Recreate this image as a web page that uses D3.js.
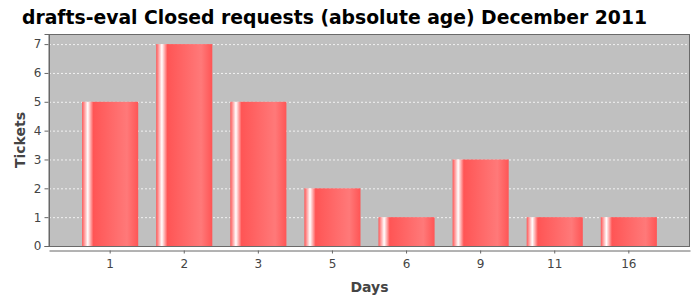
<!DOCTYPE html>
<html>
  <head>
    <meta charset="utf-8">
    <script src="https://d3js.org/d3.v7.min.js"></script>
    <title>drafts-eval Closed requests</title>
    <style>
      body { margin: 0; background: #fff; }
      text { font-family: "DejaVu Sans", sans-serif; }
    </style>
  </head>
  <body>
    <svg width="700" height="300"></svg>
    <script>
      const days = ['1', '2', '3', '5', '6', '9', '11', '16'];
      const tickets = [5, 7, 5, 2, 1, 3, 1, 1];
      const yTicks = [0, 1, 2, 3, 4, 5, 6, 7];
      const title = 'drafts-eval Closed requests (absolute age) December 2011';

      const svg = d3.select('svg');
      const plot = { left: 49, right: 690, top: 34, bottom: 246 };

      const x = d3.scaleBand()
        .domain(days)
        .range([plot.left, plot.right])
        .paddingInner(0.243)
        .paddingOuter(0.447);

      const y = d3.scaleLinear()
        .domain([0, 7.35])
        .range([plot.bottom, plot.top]);

      // bar gradient, like the jfreechart gradient painter
      const grad = svg.append('defs').append('linearGradient')
          .attr('id', 'barGrad')
          .attr('x1', 0).attr('x2', 1).attr('y1', 0).attr('y2', 0);
      [[0, '#ff5555'], [0.1, '#ffffff'], [0.2, '#ff5555'], [0.8, '#ff7979'], [1, '#ff5555']]
        .forEach(s => grad.append('stop').attr('offset', s[0]).attr('stop-color', s[1]));

      svg.append('text')
          .attr('x', 22)
          .attr('y', 24)
          .attr('font-size', 19)
          .attr('font-weight', 'bold')
          .attr('fill', '#000')
          .attr('textLength', 625)
          .attr('lengthAdjust', 'spacingAndGlyphs')
          .text(title);

      svg.append('rect')
          .attr('x', plot.left)
          .attr('y', plot.top)
          .attr('width', plot.right - plot.left)
          .attr('height', plot.bottom - plot.top)
          .attr('fill', '#c0c0c0');

      svg.append('g').selectAll('line')
        .data(yTicks.filter(d => d > 0))
        .enter().append('line')
          .attr('x1', plot.left).attr('x2', plot.right)
          .attr('y1', d => y(d) + 0.5).attr('y2', d => y(d) + 0.5)
          .attr('stroke', '#fff')
          .attr('stroke-width', 0.8)
          .attr('stroke-dasharray', '2,2');

      svg.append('g').selectAll('rect')
        .data(tickets)
        .enter().append('rect')
          .attr('x', (d, i) => x(days[i]))
          .attr('y', d => y(d))
          .attr('width', x.bandwidth())
          .attr('height', d => plot.bottom - y(d))
          .attr('fill', 'url(#barGrad)');

      svg.append('rect')
          .attr('x', plot.left + 0.5)
          .attr('y', plot.top + 0.5)
          .attr('width', plot.right - plot.left - 1)
          .attr('height', plot.bottom - plot.top)
          .attr('fill', 'none')
          .attr('stroke', '#6a6a6a');

      const yAxis = svg.append('g')
          .attr('transform', `translate(${plot.left - 0.5},0)`)
          .call(d3.axisLeft(y).tickValues(yTicks).tickSize(4).tickPadding(3));
      const xAxis = svg.append('g')
          .attr('transform', `translate(0,${plot.bottom + 4.5})`)
          .call(d3.axisBottom(x).tickSize(3).tickPadding(6).tickSizeOuter(0));

      [yAxis, xAxis].forEach(a => {
        a.select('.domain').attr('stroke', '#666');
        a.selectAll('.tick line').attr('stroke', '#666');
        a.selectAll('.tick text')
            .attr('fill', '#444')
            .attr('font-size', 12)
            .attr('font-family', '"DejaVu Sans", sans-serif');
      });

      svg.append('text')
          .attr('x', (plot.left + plot.right) / 2)
          .attr('y', 292)
          .attr('text-anchor', 'middle')
          .attr('font-size', 14)
          .attr('font-weight', 'bold')
          .attr('fill', '#444')
          .text('Days');

      svg.append('text')
          .attr('transform', `translate(25,${(plot.top + plot.bottom) / 2}) rotate(-90)`)
          .attr('text-anchor', 'middle')
          .attr('font-size', 14)
          .attr('font-weight', 'bold')
          .attr('fill', '#444')
          .text('Tickets');
    </script>
  </body>
</html>
